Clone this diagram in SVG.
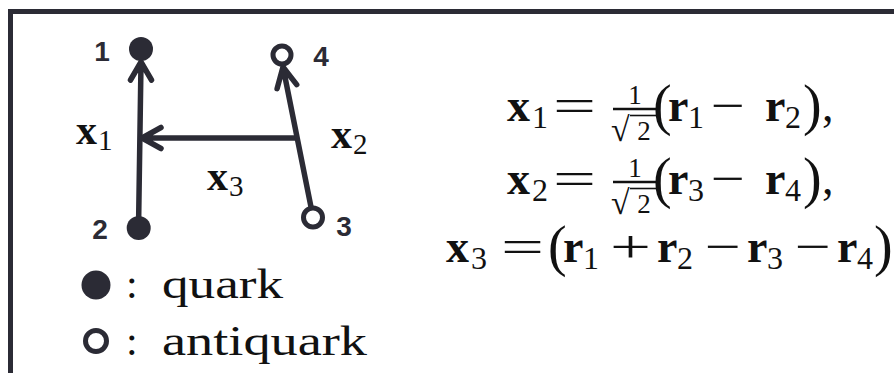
<svg xmlns="http://www.w3.org/2000/svg" width="894" height="373" viewBox="0 0 894 373">
<style>
.ink{stroke:#2b2b35;stroke-width:5.5;stroke-linecap:round;stroke-linejoin:round;fill:none}
.dot{fill:#2b2b35}
.odot{fill:#fff;stroke:#2b2b35;stroke-width:5}
.num{font-family:"Liberation Sans",Arial,sans-serif;font-weight:bold;font-size:28px;fill:#2b2b35;text-anchor:middle}
.mb{font-family:"Liberation Serif","Times New Roman",serif;font-weight:bold;font-size:46px;fill:#111}
.lb{font-family:"Liberation Serif","Times New Roman",serif;font-weight:bold;font-size:42px;fill:#111}
.m{font-family:"Liberation Serif","Times New Roman",serif;font-size:46px;fill:#111}
.sub{font-family:"Liberation Serif","Times New Roman",serif;font-size:32px;fill:#111}
.fr{font-family:"Liberation Serif","Times New Roman",serif;font-size:27px;fill:#111;text-anchor:middle}
.rad{font-family:"Liberation Serif","Times New Roman",serif;font-size:34px;fill:#111}
.par{font-family:"Liberation Serif","Times New Roman",serif;font-size:56px;fill:#111}
.leg{font-family:"Liberation Serif","Times New Roman",serif;font-size:42px;fill:#111}
.rule{stroke:#111;stroke-width:2.5}
.vin{stroke:#111;stroke-width:1.6}
</style>
<path d="M10.5,373 V11.5 H894" fill="none" stroke="#2b2b35" stroke-width="5"/>

<g id="connectors">
  <path class="ink" d="M138.7,216 L141,63 M130.5,80 L141,62 L151.5,80"/>
  <path class="ink" d="M296,138 L142,138 M161,127.5 L142,138 L161,148.5"/>
  <path class="ink" d="M311,207 L283,67 M277.1,88.6 L283,67 L296.7,84.6"/>
  <text class="lb" x="76" y="144">x</text><text class="sub" x="98" y="150" style="font-size:29px">1</text>
  <text class="lb" x="331" y="148">x</text><text class="sub" x="353" y="154" style="font-size:29px">2</text>
  <text class="lb" x="207" y="190">x</text><text class="sub" x="229" y="196" style="font-size:29px">3</text>
</g>

<g id="node1"><circle class="dot" cx="141" cy="49" r="12"/><text class="num" x="102" y="61">1</text></g>
<g id="node2"><circle class="dot" cx="138.7" cy="228" r="12"/><text class="num" x="100" y="239">2</text></g>
<g id="node3"><circle class="odot" cx="313" cy="217.5" r="9.5"/><text class="num" x="344" y="236">3</text></g>
<g id="node4"><circle class="odot" cx="282" cy="55" r="9"/><text class="num" x="321" y="66">4</text></g>

<g id="legend">
  <circle class="dot" cx="96" cy="285" r="14.5"/>
  <text class="leg" x="126" y="298">:</text>
  <text class="leg" x="162" y="298" textLength="121" lengthAdjust="spacingAndGlyphs">quark</text>
  <circle class="odot" cx="96" cy="341" r="10.5"/>
  <text class="leg" x="126" y="355">:</text>
  <text class="leg" x="162" y="355" textLength="205" lengthAdjust="spacingAndGlyphs">antiquark</text>
</g>

<g id="eq1">
  <text class="mb" x="507" y="121">x</text><text class="sub" x="532" y="128">1</text>
  <text class="m" x="553" y="121" textLength="43" lengthAdjust="spacingAndGlyphs">=</text>
  <text class="fr" x="635" y="104">1</text>
  <line class="rule" x1="613" y1="109" x2="656" y2="109"/>
  <text class="rad" x="611" y="141">√</text>
  <line class="vin" x1="630" y1="115.5" x2="656" y2="115.5"/>
  <text class="fr" x="644" y="140">2</text>
  <text class="par" x="653" y="124">(</text>
  <text class="mb" x="668" y="121">r</text><text class="sub" x="688" y="128">1</text>
  <text class="m" x="711" y="121" textLength="34" lengthAdjust="spacingAndGlyphs">−</text>
  <text class="mb" x="765" y="121">r</text><text class="sub" x="785" y="128">2</text>
  <text class="par" x="803" y="124">)</text>
  <text class="m" x="822" y="121">,</text>
</g>

<g id="eq2">
  <text class="mb" x="507" y="194">x</text><text class="sub" x="532" y="201">2</text>
  <text class="m" x="553" y="194" textLength="43" lengthAdjust="spacingAndGlyphs">=</text>
  <text class="fr" x="635" y="177">1</text>
  <line class="rule" x1="613" y1="182" x2="656" y2="182"/>
  <text class="rad" x="611" y="214">√</text>
  <line class="vin" x1="630" y1="188.5" x2="656" y2="188.5"/>
  <text class="fr" x="644" y="213">2</text>
  <text class="par" x="653" y="197">(</text>
  <text class="mb" x="668" y="194">r</text><text class="sub" x="688" y="201">3</text>
  <text class="m" x="711" y="194" textLength="34" lengthAdjust="spacingAndGlyphs">−</text>
  <text class="mb" x="765" y="194">r</text><text class="sub" x="785" y="201">4</text>
  <text class="par" x="803" y="197">)</text>
  <text class="m" x="822" y="194">,</text>
</g>

<g id="eq3">
  <text class="mb" x="446" y="262">x</text><text class="sub" x="471" y="269">3</text>
  <text class="m" x="501" y="262" textLength="43" lengthAdjust="spacingAndGlyphs">=</text>
  <text class="par" x="548" y="265">(</text>
  <text class="mb" x="563" y="262">r</text><text class="sub" x="583" y="269">1</text>
  <text class="m" x="610" y="262" textLength="41" lengthAdjust="spacingAndGlyphs">+</text>
  <text class="mb" x="657" y="262">r</text><text class="sub" x="677" y="269">2</text>
  <text class="m" x="705" y="262" textLength="36" lengthAdjust="spacingAndGlyphs">−</text>
  <text class="mb" x="747" y="262">r</text><text class="sub" x="767" y="269">3</text>
  <text class="m" x="795" y="262" textLength="36" lengthAdjust="spacingAndGlyphs">−</text>
  <text class="mb" x="837" y="262">r</text><text class="sub" x="857" y="269">4</text>
  <text class="par" x="874" y="265">)</text>
</g>
</svg>
